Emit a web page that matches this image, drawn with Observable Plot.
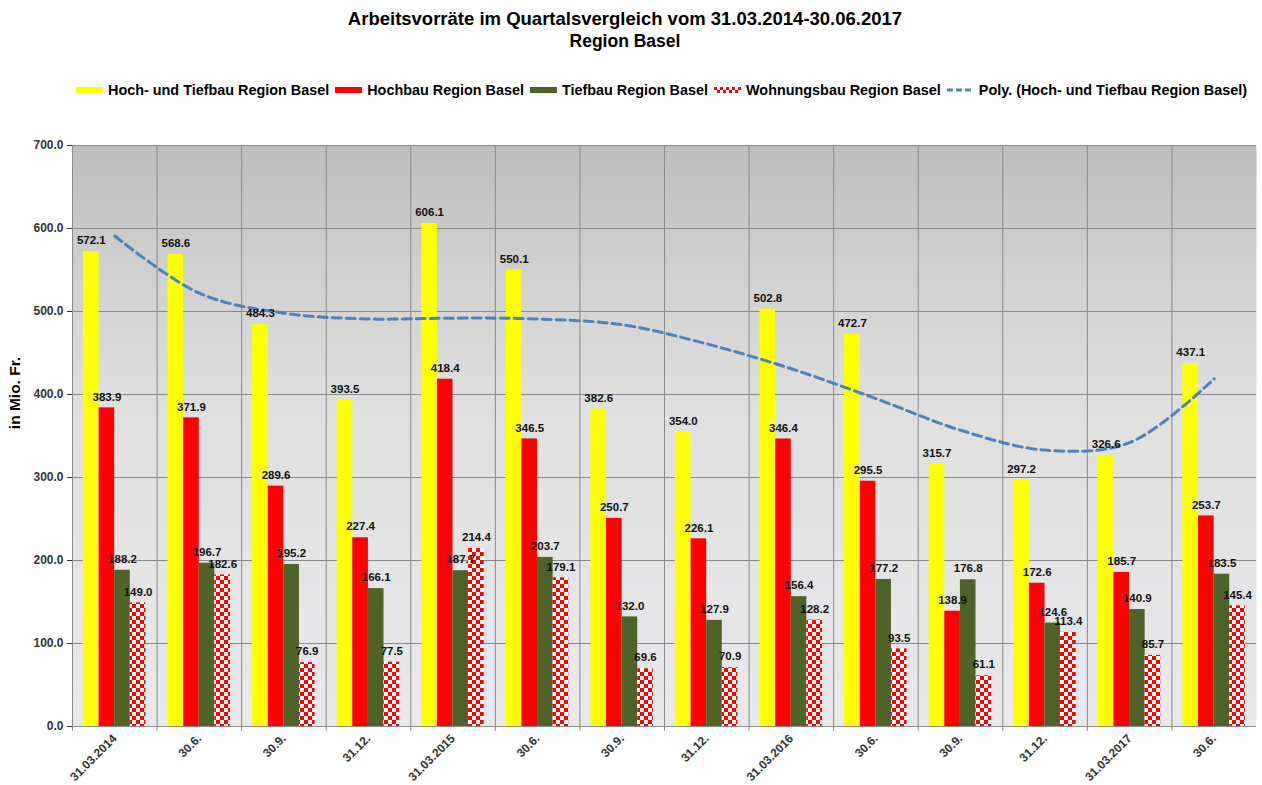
<!DOCTYPE html>
<html>
<head>
<meta charset="utf-8">
<script src="https://cdn.jsdelivr.net/npm/d3@7"></script>
<script src="https://cdn.jsdelivr.net/npm/@observablehq/plot@0.6"></script>
<style>
  html, body { margin: 0; padding: 0; background: #fff; }
  body { width: 1262px; height: 785px; position: relative; overflow: hidden; font-family: "Liberation Sans", Arial, sans-serif; }
  #title { position: absolute; top: 8px; left: 0; width: 1250px; text-align: center; font-weight: bold; color: #000; }
  #title .l1 { font-size: 18.5px; line-height: 22px; }
  #title .l2 { font-size: 17.5px; line-height: 22px; }
  #legend { position: absolute; top: 82px; left: 76px; display: flex; align-items: center; font-weight: bold; font-size: 14.4px; color: #000; white-space: nowrap; }
  #legend .item { display: flex; align-items: center; margin-right: 6px; }
  #legend .sw { width: 27px; height: 6px; margin-right: 5px; }
  #ylabel { position: absolute; left: 15px; top: 393px; width: 0; height: 0; }
  #ylabel span { position: absolute; left: 0; top: 0; transform: translate(-50%, -50%) rotate(-90deg); font-weight: bold; font-size: 15.5px; white-space: nowrap; }
  #chart { position: absolute; top: 120px; left: 0; }
</style>
</head>
<body>
<div id="title"><div class="l1">Arbeitsvorräte im Quartalsvergleich vom 31.03.2014-30.06.2017</div><div class="l2">Region Basel</div></div>
<div id="legend"></div>
<div id="ylabel"><span>in Mio. Fr.</span></div>
<div id="chart"></div>
<script>
// ---- data ----
const categories = ["31.03.2014","30.6.","30.9.","31.12.","31.03.2015","30.6.","30.9.","31.12.","31.03.2016","30.6.","30.9.","31.12.","31.03.2017","30.6."];
const seriesNames = ["Hoch- und Tiefbau Region Basel","Hochbau Region Basel","Tiefbau Region Basel","Wohnungsbau Region Basel","Poly. (Hoch- und Tiefbau Region Basel)"];
const hochTiefbau = [572.1, 568.6, 484.3, 393.5, 606.1, 550.1, 382.6, 354.0, 502.8, 472.7, 315.7, 297.2, 326.6, 437.1];
const hochbau     = [383.9, 371.9, 289.6, 227.4, 418.4, 346.5, 250.7, 226.1, 346.4, 295.5, 138.9, 172.6, 185.7, 253.7];
const tiefbau     = [188.2, 196.7, 195.2, 166.1, 187.7, 203.7, 132.0, 127.9, 156.4, 177.2, 176.8, 124.6, 140.9, 183.5];
const wohnungsbau = [149.0, 182.6, 76.9, 77.5, 214.4, 179.1, 69.6, 70.9, 128.2, 93.5, 61.1, 113.4, 85.7, 145.4];
// polynomial trendline at each category
const polyTrend   = [591, 522, 498, 491, 492, 491, 484, 461, 431, 395, 357, 333, 342, 419];
const yTicks = [0, 100, 200, 300, 400, 500, 600, 700];

// ---- layout ----
const W = 1262, H = 665;
const mL = 72, mR = 6, mT = 25, mB = 59;
const bw = (W - mL - mR) / categories.length;
const barW = 15.6, gap = 11;
const idx = categories.map((_, i) => i);
const colors = ["#ffff00", "#ff0000", "#4f6228", "url(#checker)"];
const values = [hochTiefbau, hochbau, tiefbau, wohnungsbau];

const barMarks = values.map((vals, s) => Plot.barY(idx, {
  x: i => i, y: i => vals[i], fill: colors[s],
  insetLeft: gap + s * barW, insetRight: bw - gap - (s + 1) * barW
}));
const labelMarks = values.map((vals, s) => Plot.text(idx, {
  x: i => i, y: i => vals[i], text: i => vals[i].toFixed(1),
  dx: (gap + s * barW + barW / 2) - bw / 2, dy: -11,
  fill: "#111", fontWeight: "bold", fontSize: 11.5
}));

const chart = Plot.plot({
  width: W, height: H,
  marginLeft: mL, marginRight: mR, marginTop: mT, marginBottom: mB,
  style: { fontFamily: "Liberation Sans, Arial, sans-serif", fontSize: "12px", fontWeight: "bold", color: "#333", background: "transparent" },
  x: { domain: idx, padding: 0, round: false, tickFormat: i => categories[i], tickRotate: -45, tickSize: 0, tickPadding: 10, label: null },
  y: { domain: [0, 700], ticks: yTicks, tickFormat: d => d.toFixed(1), tickSize: 5, tickPadding: 4, label: null },
  marks: [
    Plot.frame({ fill: "url(#bgGrad)", stroke: null }),
    Plot.gridY(yTicks, { stroke: "#8a8a8a", strokeOpacity: 1 }),
    Plot.ruleX(idx, { x: i => i, dx: -bw / 2, stroke: "#8a8a8a", insetBottom: -5 }),
    ...barMarks,
    Plot.line(idx, { x: i => i, y: i => polyTrend[i], curve: "catmull-rom", stroke: "#4f81bd", strokeWidth: 3, strokeDasharray: "9,5" }),
    ...labelMarks,
    Plot.ruleY([0], { stroke: "#8a8a8a" })
  ]
});

// defs: background gradient and checker pattern
const svg = d3.select(chart);
const defs = svg.insert("defs", ":first-child");
const g = defs.append("linearGradient").attr("id", "bgGrad").attr("x1", 0).attr("y1", 0).attr("x2", 0).attr("y2", 1);
g.append("stop").attr("offset", "0%").attr("stop-color", "#bcbcbc");
g.append("stop").attr("offset", "20%").attr("stop-color", "#cfcfcf");
g.append("stop").attr("offset", "45%").attr("stop-color", "#dfdfdf");
g.append("stop").attr("offset", "100%").attr("stop-color", "#e9e9ec");
const p = defs.append("pattern").attr("id", "checker").attr("patternUnits", "userSpaceOnUse").attr("width", 8).attr("height", 8);
p.append("rect").attr("width", 8).attr("height", 8).attr("fill", "#fff");
p.append("rect").attr("width", 4).attr("height", 4).attr("fill", "#ff0000");
p.append("rect").attr("x", 4).attr("y", 4).attr("width", 4).attr("height", 4).attr("fill", "#ff0000");
document.getElementById("chart").appendChild(chart);

// legend
const legend = d3.select("#legend");
seriesNames.forEach((name, s) => {
  const it = legend.append("div").attr("class", "item");
  const sw = it.append("svg").attr("class", "sw").attr("width", 27).attr("height", 6);
  if (s < 3) sw.append("rect").attr("width", 27).attr("height", 6).attr("fill", colors[s]);
  else if (s === 3) {
    const d2 = sw.append("defs").append("pattern").attr("id", "checkerL").attr("patternUnits", "userSpaceOnUse").attr("width", 6).attr("height", 6);
    d2.append("rect").attr("width", 6).attr("height", 6).attr("fill", "#fff");
    d2.append("rect").attr("width", 3).attr("height", 3).attr("fill", "#ff0000");
    d2.append("rect").attr("x", 3).attr("y", 3).attr("width", 3).attr("height", 3).attr("fill", "#ff0000");
    sw.append("rect").attr("width", 27).attr("height", 6).attr("fill", "url(#checkerL)");
  } else {
    sw.append("line").attr("x1", 0).attr("x2", 27).attr("y1", 3).attr("y2", 3).attr("stroke", "#4f81bd").attr("stroke-width", 3).attr("stroke-dasharray", "6,3");
  }
  it.append("span").text(name);
});
</script>
</body>
</html>
